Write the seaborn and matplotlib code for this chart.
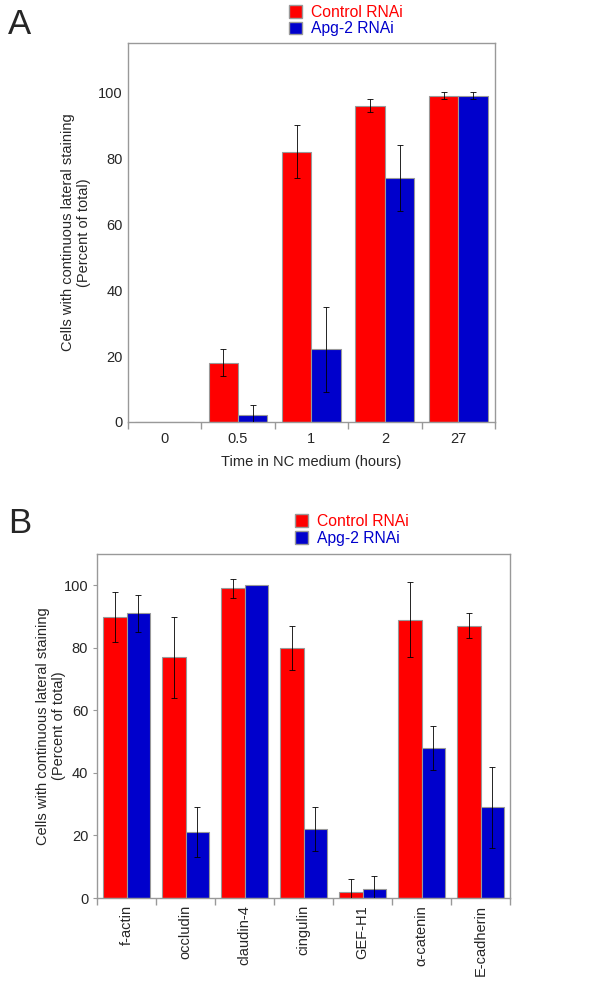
import numpy as np
import pandas as pd
import seaborn as sns
import matplotlib.pyplot as plt

sns.set_style("white")
plt.rcParams['font.family'] = ['Liberation Sans', 'DejaVu Sans']

# panel A data
times = ["0", "0.5", "1", "2", "27"]
ctrl_a = [0, 18, 82, 96, 99]
ctrl_a_err = [0, 4, 8, 2, 1]
apg_a = [0, 2, 22, 74, 99]
apg_a_err = [0, 3, 13, 10, 1]

# panel B data
markers = ["f-actin", "occludin", "claudin-4", "cingulin", "GEF-H1", "α-catenin", "E-cadherin"]
ctrl_b = [90, 77, 99, 80, 2, 89, 87]
ctrl_b_err = [8, 13, 3, 7, 4, 12, 4]
apg_b = [91, 21, 100, 22, 3, 48, 29]
apg_b_err = [6, 8, 0, 7, 4, 7, 13]

groups = ["Control RNAi", "Apg-2 RNAi"]
colors = {"Control RNAi": "#ff0000", "Apg-2 RNAi": "#0000cc"}
ylab = "Cells with continuous lateral staining\n(Percent of total)"


def draw_panel(ax, cats, c, ce, a, ae, ymax, yticklen):
    df = pd.DataFrame({"cat": cats * 2,
                       "val": c + a,
                       "err": ce + ae,
                       "grp": [groups[0]] * len(cats) + [groups[1]] * len(cats)})
    sns.barplot(data=df, x="cat", y="val", hue="grp", palette=colors, ax=ax,
                width=0.8, saturation=1, edgecolor="#999999", linewidth=0.8,
                errorbar=None, legend=False)
    # error bars from the bar patches
    bars = [p for p in ax.patches][:len(df)]
    for p, (_, row) in zip(bars, df.iterrows()):
        if row["err"] > 0:
            ax.errorbar(p.get_x() + p.get_width() / 2, row["val"], yerr=row["err"],
                        fmt="none", ecolor="black", elinewidth=0.6, capsize=2.5,
                        capthick=0.6, zorder=5)
    ax.set_ylim(0, ymax)
    ax.set_xlim(-0.5, len(cats) - 0.5)
    ax.set_yticks([0, 20, 40, 60, 80, 100])
    for s in ax.spines.values():
        s.set_color("#999999")
        s.set_linewidth(1)
    ax.set_xticks(np.arange(-0.5, len(cats)), minor=True)
    ax.tick_params(axis="x", which="major", length=0, labelsize=10.5, pad=7)
    ax.tick_params(axis="x", which="minor", length=5, color="#999999", width=1, bottom=True)
    ax.tick_params(axis="y", length=yticklen, color="#999999", labelsize=10.5, left=True)
    ax.set_ylabel(ylab, fontsize=10.5)


fig = plt.figure(figsize=(6, 9.85), dpi=100)
axA = fig.add_axes([0.213, 0.5716, 0.612, 0.3848])
axB = fig.add_axes([0.162, 0.0883, 0.688, 0.3492])

draw_panel(axA, times, ctrl_a, ctrl_a_err, apg_a, apg_a_err, 115, 0)
axA.set_xlabel("Time in NC medium (hours)", fontsize=10.5, labelpad=7)
axA.yaxis.labelpad = 5

draw_panel(axB, markers, ctrl_b, ctrl_b_err, apg_b, apg_b_err, 110, 3)
axB.set_xlabel("")
for t in axB.get_xticklabels():
    t.set_rotation(90)
axB.tick_params(axis="x", which="major", pad=5)
axB.yaxis.labelpad = -2

handles = [plt.Rectangle((0, 0), 1, 1, facecolor=colors[g], edgecolor="#999999") for g in groups]
for y0, x0 in [(1.003, 0.468), (0.486, 0.478)]:
    fig.legend(handles, groups, loc="upper left", bbox_to_anchor=(x0, y0), frameon=False,
               fontsize=11.3, handlelength=0.85, handleheight=0.85, handletextpad=0.6,
               labelspacing=0.1, borderpad=0, labelcolor=[colors[g] for g in groups])

fig.text(0.013, 0.9655, "A", fontsize=25, ha="left", va="baseline")
fig.text(0.013, 0.459, "B", fontsize=25, ha="left", va="baseline")

fig.savefig("out.png", dpi=100)
